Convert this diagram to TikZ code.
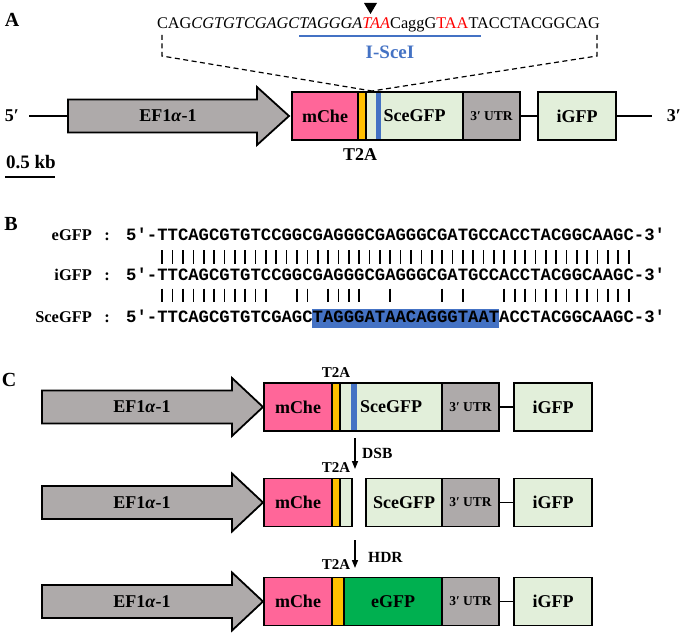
\documentclass[tikz,border=0pt]{standalone}
\usepackage{fontspec}
\setmainfont{Liberation Serif}
\setmonofont{Liberation Mono}
\usetikzlibrary{arrows.meta}
\newcommand\myfs[1]{\fontsize{#1}{#1}\selectfont}
\definecolor{mche}{HTML}{FF6699}
\definecolor{tyel}{HTML}{FFC000}
\definecolor{lgrn}{HTML}{E2EFDA}
\definecolor{ugry}{HTML}{AEAAAA}
\definecolor{sblu}{HTML}{4472C4}
\definecolor{egrn}{HTML}{00B050}
\begin{document}
\begin{tikzpicture}[x=1pt,y=-1pt,
  ol/.style={line width=1.8pt},
  seg/.style={draw, line width=1.8pt, inner sep=0pt, outer sep=0pt, anchor=west, minimum height=48pt, font=\bfseries\myfs{18}},
  utr/.style={seg, fill=ugry, minimum width=57pt, font=\bfseries\myfs{13.5}},
  arrowbody/.style={draw, line width=1.8pt, fill=ugry, line join=miter},
  lab/.style={font=\bfseries\myfs{18}, inner sep=0pt},
  small/.style={font=\bfseries\myfs{15.5}, inner sep=0pt},
  panel/.style={font=\bfseries\myfs{20}, inner sep=0pt},
  seqlab/.style={font=\bfseries\myfs{16.4}, inner sep=0pt},
  mono/.style={font=\ttfamily\bfseries\myfs{17.27}, inner sep=0pt, anchor=base west},
  bar/.style={line width=1.7pt},
  step arrow/.style={line width=1.5pt, -{Triangle[length=8pt,width=6pt]}},
]
\useasboundingbox (0,0) rectangle (685,634);

% ---------------- Panel A ----------------
\node[panel] (pA) at (12,20) {A};
\node[font=\myfs{16.3}, inner sep=0pt, anchor=base] (seqA) at (378.5,29)
  {CAG\textit{CGTGTCGAGCTAGGGA\textcolor{red}{TAA}}CaggG\textcolor{red}{TAA}TACCTACGGCAG};
\fill (364,3) -- (377,3) -- (370.5,14) -- cycle;
\draw[sblu, line width=2pt] (299,36) -- (481,36);
\node[font=\bfseries\myfs{19}, text=sblu, inner sep=0pt] (isce) at (390,52) {I-SceI};
\coordinate (cut) at (372,91);
\draw[dashed, line width=1.2pt, dash pattern=on 5pt off 3.5pt] (162,35) -- (162,56) -- (cut);
\draw[dashed, line width=1.2pt, dash pattern=on 5pt off 3.5pt] (597,35) -- (597,56) -- (cut);

\coordinate (l5A) at (29,116);
\coordinate (tailA) at (68,116);
\draw[ol] (l5A) -- (tailA);
\draw[arrowbody] (68,99.5) -- (257,99.5) -- (257,87) -- (289,116) -- (257,145) -- (257,132.5) -- (68,132.5) -- cycle;
\node[lab] (efA) at (168,116) {EF1\textit{α}-1};
\node[lab] (p5) at (12,116) {5′};
\node[lab] (p3) at (674,116) {3′};

\node[seg, fill=mche, minimum width=66pt] (mA) at (292,116) {mChe};
\node[seg, fill=lgrn, minimum width=97pt] (sA) at (366,116) {SceGFP};
\node[seg, fill=tyel, minimum width=8pt] (tA) at (358,116) {};
\fill[sblu] (376,93) rectangle (381,139);
\node[utr] (uA) at (463,116) {3′ UTR};
\node[seg, fill=lgrn, minimum width=78pt] (iA) at (538,116) {iGFP};
\coordinate (r3A) at (652,116);
\draw[ol] (uA.east) -- (iA.west);
\draw[ol] (iA.east) -- (r3A);
\node[lab] (t2aA) at (360,155) {T2A};
\node[font=\bfseries\myfs{19}, inner sep=0pt] (kb) at (31,162) {0.5 kb};
\draw[line width=2pt] (5,177) -- (55,177);

% ---------------- Panel B ----------------
\node[panel] (pB) at (11,224) {B};
\node[seqlab, anchor=base east] (le) at (92,240) {eGFP};
\node[seqlab, anchor=base] (ce) at (107,240) {:};
\node[seqlab, anchor=base east] (li) at (92,280) {iGFP};
\node[seqlab, anchor=base] (ci) at (107,280) {:};
\node[seqlab, anchor=base east] (ls) at (92,322) {SceGFP};
\node[seqlab, anchor=base] (cs) at (107,322) {:};
\fill[sblu] (312.2,309) rectangle (498.7,327.5);
\node[mono] (se) at (126,240) {5′-TTCAGCGTGTCCGGCGAGGGCGAGGGCGATGCCACCTACGGCAAGC-3′};
\node[mono] (si) at (126,280) {5′-TTCAGCGTGTCCGGCGAGGGCGAGGGCGATGCCACCTACGGCAAGC-3′};
\node[mono] (ss) at (126,322) {5′-TTCAGCGTGTCGAGCTAGGGATAACAGGGTAATACCTACGGCAAGC-3′};
\foreach \j in {1,...,46} \draw[bar] ({162.27+10.364*(\j-1)},250) -- ++(0,13.5);
\foreach \j in {1,2,3,4,5,6,7,8,9,10,11,14,15,17,18,19,20,23,28,30,34,35,36,37,38,39,40,41,42,43,44,45,46}
  \draw[bar] ({162.27+10.364*(\j-1)},288.5) -- ++(0,13.5);

% ---------------- Panel C ----------------
\node[panel] (pC) at (9,380) {C};

% row 1
\draw[arrowbody] (42,390.5) -- (232,390.5) -- (232,378) -- (263,407) -- (232,436) -- (232,423.5) -- (42,423.5) -- cycle;
\node[lab] (ef1) at (142,407) {EF1\textit{α}-1};
\node[seg, fill=mche, minimum width=68pt] (m1) at (264,407) {mChe};
\node[seg, fill=lgrn, minimum width=102pt] (s1) at (340,407) {SceGFP};
\node[seg, fill=tyel, minimum width=8pt] (t1) at (332,407) {};
\fill[sblu] (351,384) rectangle (357,430);
\node[utr] (u1) at (442,407) {3′ UTR};
\node[seg, fill=lgrn, minimum width=78pt] (i1) at (514,407) {iGFP};
\draw[ol] (u1.east) -- (i1.west);
\node[small, font=\bfseries\myfs{15}] (t2a1) at (336,373) {T2A};

\coordinate (dsbS) at (355,438);
\coordinate (dsbE) at (355,469);
\draw[step arrow] (dsbS) -- (dsbE);
\node[small, anchor=west] (dsb) at (362,453) {DSB};

% row 2
\draw[arrowbody] (42,486) -- (232,486) -- (232,473.5) -- (263,502.5) -- (232,531.5) -- (232,519) -- (42,519) -- cycle;
\node[lab] (ef2) at (142,502.5) {EF1\textit{α}-1};
\node[seg, fill=mche, minimum width=68pt] (m2) at (264,502.5) {mChe};
\node[seg, fill=lgrn, minimum width=12pt] (g2) at (340,502.5) {};
\node[seg, fill=tyel, minimum width=8pt] (t2) at (332,502.5) {};
\node[seg, fill=lgrn, minimum width=76pt] (s2) at (366,502.5) {SceGFP};
\node[utr] (u2) at (442,502.5) {3′ UTR};
\node[seg, fill=lgrn, minimum width=78pt] (i2) at (514,502.5) {iGFP};
\draw[ol] (u2.east) -- (i2.west);
\node[small, font=\bfseries\myfs{15}] (t2a2) at (336,468) {T2A};

\coordinate (hdrS) at (355,540);
\coordinate (hdrE) at (355,568);
\draw[step arrow] (hdrS) -- (hdrE);
\node[small, anchor=west] (hdr) at (368,557) {HDR};

% row 3
\draw[arrowbody] (42,585) -- (232,585) -- (232,572.5) -- (263,601.5) -- (232,630.5) -- (232,618) -- (42,618) -- cycle;
\node[lab] (ef3) at (142,601.5) {EF1\textit{α}-1};
\node[seg, fill=mche, minimum width=68pt] (m3) at (264,601.5) {mChe};
\node[seg, fill=egrn, minimum width=98pt] (e3) at (344,601.5) {eGFP};
\node[seg, fill=tyel, minimum width=12pt] (t3) at (332,601.5) {};
\node[utr] (u3) at (442,601.5) {3′ UTR};
\node[seg, fill=lgrn, minimum width=78pt] (i3) at (514,601.5) {iGFP};
\draw[ol] (u3.east) -- (i3.west);
\node[small, font=\bfseries\myfs{15}] (t2a3) at (336,565) {T2A};
\end{tikzpicture}
\end{document}
